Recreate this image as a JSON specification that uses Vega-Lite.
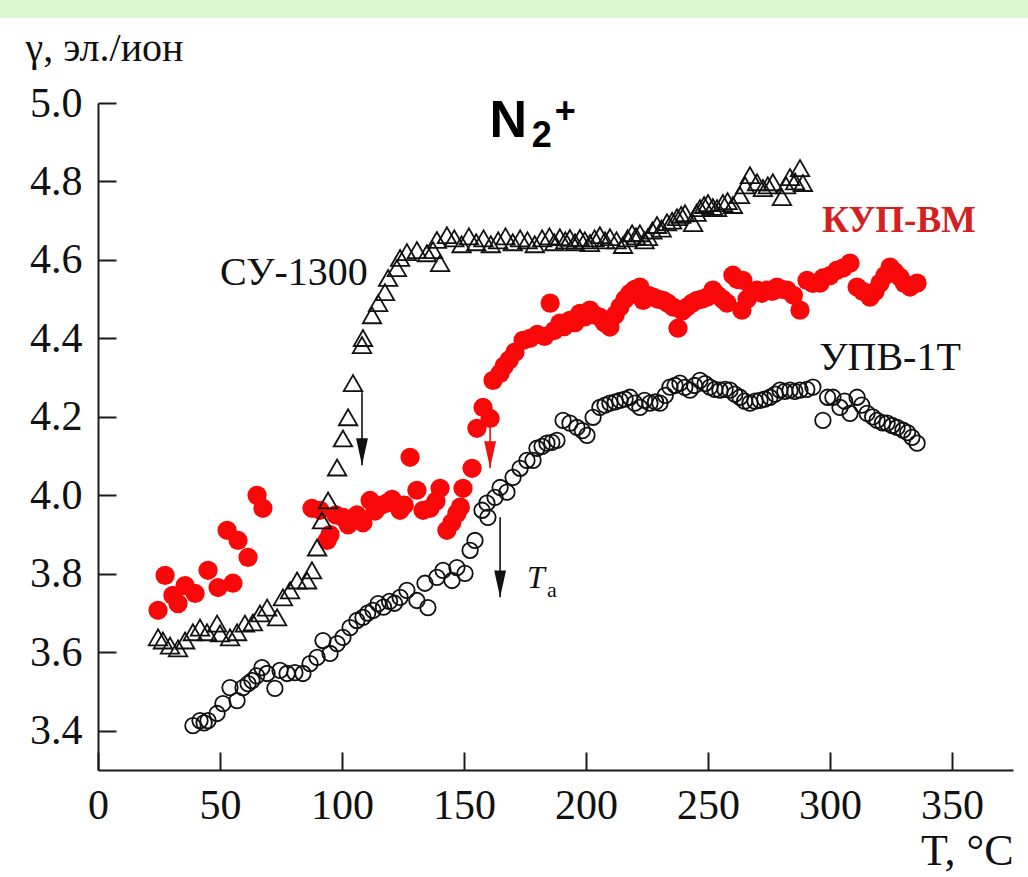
{
  "$schema": "https://vega.github.io/schema/vega-lite/v6.json",
  "width": 915,
  "height": 667,
  "autosize": {"type": "none"},
  "padding": {"left": 98, "top": 103, "right": 15, "bottom": 107},
  "background": "white",
  "config": {"view": {"stroke": null}},
  "datasets": {
    "tri": [
      {"T":24.6,"g":3.638},{"T":26.6,"g":3.630},{"T":29.5,"g":3.617},{"T":32.8,"g":3.610},{"T":35.7,"g":3.630},{"T":38.9,"g":3.651},{"T":41.8,"g":3.663},{"T":44.7,"g":3.651},{"T":48.8,"g":3.673},{"T":50.0,"g":3.648},{"T":54.1,"g":3.638},{"T":57.0,"g":3.651},{"T":60.2,"g":3.673},{"T":63.5,"g":3.676},{"T":66.4,"g":3.699},{"T":69.3,"g":3.714},{"T":73.4,"g":3.689},{"T":75.8,"g":3.740},{"T":78.7,"g":3.758},{"T":81.6,"g":3.783},{"T":85.7,"g":3.783},{"T":87.7,"g":3.809},{"T":89.8,"g":3.867},{"T":91.8,"g":3.936},{"T":94.3,"g":3.987},{"T":98.0,"g":4.071},{"T":100.4,"g":4.145},{"T":102.5,"g":4.199},{"T":104.5,"g":4.286},{"T":108.2,"g":4.383},{"T":108.6,"g":4.401},{"T":112.3,"g":4.459},{"T":114.8,"g":4.490},{"T":117.6,"g":4.518},{"T":118.9,"g":4.554},{"T":122.5,"g":4.579},{"T":123.8,"g":4.605},{"T":126.6,"g":4.620},{"T":130.7,"g":4.625},{"T":134.8,"g":4.617},{"T":137.3,"g":4.625},{"T":140.2,"g":4.592},{"T":138.9,"g":4.651},{"T":143.0,"g":4.663},
      {"T":146,"g":4.655},{"T":149,"g":4.64},{"T":152,"g":4.66},{"T":155,"g":4.645},{"T":158,"g":4.655},{"T":161,"g":4.64},{"T":164,"g":4.65},{"T":167,"g":4.66},{"T":170,"g":4.645},{"T":173,"g":4.655},{"T":176,"g":4.65},{"T":179,"g":4.64},{"T":182,"g":4.655},{"T":185,"g":4.66},{"T":187,"g":4.645},
      {"T":189.3,"g":4.658},{"T":191.5,"g":4.650},{"T":193.4,"g":4.656},{"T":195.5,"g":4.645},{"T":197.5,"g":4.656},{"T":199.5,"g":4.650},{"T":201.6,"g":4.643},{"T":203.5,"g":4.655},{"T":205.7,"g":4.663},{"T":207.8,"g":4.650},{"T":209.8,"g":4.658},{"T":212.5,"g":4.650},{"T":215.2,"g":4.638},{"T":217,"g":4.655},{"T":218.9,"g":4.668},{"T":220.5,"g":4.660},{"T":222.1,"g":4.668},{"T":224,"g":4.650},{"T":225.4,"g":4.658},{"T":227.2,"g":4.675},{"T":229.1,"g":4.689},{"T":231,"g":4.680},{"T":233.2,"g":4.696},{"T":235.3,"g":4.700},{"T":237.3,"g":4.709},{"T":239,"g":4.715},{"T":240.6,"g":4.719},{"T":243.9,"g":4.694},{"T":245.3,"g":4.720},{"T":246.7,"g":4.732},{"T":248.4,"g":4.740},{"T":250.0,"g":4.745},{"T":252,"g":4.735},{"T":253.7,"g":4.732},{"T":256.1,"g":4.745},{"T":258,"g":4.750},{"T":260.2,"g":4.740},{"T":263.1,"g":4.765},{"T":265.2,"g":4.790},{"T":267.2,"g":4.816},{"T":270.1,"g":4.798},{"T":272.5,"g":4.783},{"T":274.5,"g":4.790},{"T":276.6,"g":4.798},{"T":280.3,"g":4.760},{"T":282,"g":4.790},{"T":283.6,"g":4.811},{"T":285.7,"g":4.800},{"T":287.7,"g":4.834},{"T":288.9,"g":4.796}
    ],
    "red": [
      {"T":24.6,"g":3.707},{"T":27.5,"g":3.796},{"T":30.7,"g":3.745},{"T":32.8,"g":3.724},{"T":35.7,"g":3.770},{"T":39.8,"g":3.750},{"T":45.1,"g":3.809},{"T":49.2,"g":3.765},{"T":52.9,"g":3.911},{"T":55.3,"g":3.776},{"T":57.4,"g":3.885},{"T":61.5,"g":3.842},{"T":65.2,"g":4.000},{"T":67.6,"g":3.967},
      {"T":87.7,"g":3.967},{"T":91.0,"g":3.962},{"T":93.9,"g":3.885},{"T":95.1,"g":3.900},{"T":97.5,"g":3.950},{"T":100.4,"g":3.944},{"T":102.5,"g":3.925},{"T":104.5,"g":3.936},{"T":106.1,"g":3.950},{"T":108.6,"g":3.930},{"T":111.5,"g":3.987},{"T":113.5,"g":3.960},{"T":116.0,"g":3.975},{"T":118.4,"g":3.980},{"T":120.5,"g":3.990},{"T":123.8,"g":3.962},{"T":125.5,"g":3.975},{"T":127.9,"g":4.097},{"T":130.7,"g":4.013},{"T":133.2,"g":3.962},{"T":136.1,"g":3.967},{"T":138.5,"g":3.985},{"T":140.2,"g":4.018},{"T":143.0,"g":3.911},{"T":145.0,"g":3.930},{"T":147.1,"g":3.954},{"T":148.5,"g":3.970},{"T":149.6,"g":4.018},{"T":153.3,"g":4.069},{"T":155.3,"g":4.171},{"T":157.8,"g":4.224},{"T":160.7,"g":4.196},{"T":161.9,"g":4.293},{"T":164.8,"g":4.311},{"T":166.5,"g":4.330},{"T":168.5,"g":4.345},{"T":170.9,"g":4.365},{"T":174.2,"g":4.395},{"T":177.0,"g":4.400},{"T":180.0,"g":4.410},{"T":183.0,"g":4.405},{"T":185.3,"g":4.490},{"T":187.0,"g":4.420},{"T":189.3,"g":4.439},{"T":191.0,"g":4.430},{"T":193.4,"g":4.446},{"T":195.5,"g":4.440},{"T":197.5,"g":4.464},{"T":199.5,"g":4.455},{"T":201.6,"g":4.472},{"T":203.5,"g":4.460},{"T":205.7,"g":4.454},{"T":207.5,"g":4.440},{"T":209.8,"g":4.429},{"T":212.0,"g":4.460},{"T":213.9,"g":4.480},{"T":216.0,"g":4.500},{"T":218.0,"g":4.515},{"T":220.0,"g":4.525},{"T":222.1,"g":4.531},{"T":223.4,"g":4.497},{"T":225.5,"g":4.510},{"T":227.5,"g":4.505},{"T":229.5,"g":4.500},{"T":231.6,"g":4.497},{"T":233.5,"g":4.490},{"T":235.7,"g":4.480},{"T":237.7,"g":4.426},{"T":239.5,"g":4.470},{"T":241.4,"g":4.480},{"T":243.5,"g":4.490},{"T":245.5,"g":4.497},{"T":247.5,"g":4.500},{"T":249.6,"g":4.505},{"T":252.0,"g":4.523},{"T":254.0,"g":4.510},{"T":256.0,"g":4.500},{"T":257.8,"g":4.490},{"T":260.2,"g":4.561},{"T":262.0,"g":4.550},{"T":264.3,"g":4.548},{"T":263.9,"g":4.472},{"T":266.0,"g":4.500},{"T":268.0,"g":4.515},{"T":270.1,"g":4.523},{"T":272.0,"g":4.515},{"T":274.2,"g":4.523},{"T":276.3,"g":4.520},{"T":278.3,"g":4.531},{"T":280.3,"g":4.525},{"T":282.4,"g":4.523},{"T":285.0,"g":4.510},{"T":287.7,"g":4.472},{"T":290.6,"g":4.548},{"T":293.0,"g":4.540},{"T":295.9,"g":4.541},{"T":297.1,"g":4.554},{"T":300.0,"g":4.560},{"T":302.9,"g":4.574},{"T":305.5,"g":4.580},{"T":308.2,"g":4.592},{"T":311.1,"g":4.531},{"T":313.5,"g":4.520},{"T":316.4,"g":4.505},{"T":318.5,"g":4.520},{"T":320.5,"g":4.541},{"T":322.5,"g":4.560},{"T":324.6,"g":4.582},{"T":326.5,"g":4.570},{"T":328.7,"g":4.556},{"T":330.5,"g":4.540},{"T":332.8,"g":4.531},{"T":335.7,"g":4.541}
    ],
    "circ": [
      {"T":38.9,"g":3.413},{"T":41.8,"g":3.426},{"T":43.5,"g":3.420},{"T":45.1,"g":3.426},{"T":48.8,"g":3.444},{"T":51.2,"g":3.469},{"T":54.1,"g":3.510},{"T":57.0,"g":3.477},{"T":59.4,"g":3.510},{"T":61.5,"g":3.520},{"T":63.1,"g":3.528},{"T":65.0,"g":3.540},{"T":67.2,"g":3.561},{"T":69.3,"g":3.546},{"T":72.5,"g":3.508},{"T":74.6,"g":3.554},{"T":77.5,"g":3.546},{"T":80.7,"g":3.548},{"T":84.0,"g":3.546},{"T":86.9,"g":3.571},{"T":89.8,"g":3.587},{"T":92.2,"g":3.630},{"T":95.1,"g":3.597},{"T":98.0,"g":3.622},{"T":100.4,"g":3.638},{"T":103.3,"g":3.663},{"T":106.1,"g":3.681},{"T":108.6,"g":3.689},{"T":110.5,"g":3.700},{"T":112.7,"g":3.707},{"T":114.8,"g":3.724},{"T":117.0,"g":3.715},{"T":119.5,"g":3.730},{"T":121.5,"g":3.725},{"T":123.8,"g":3.740},{"T":126.6,"g":3.758},{"T":130.7,"g":3.732},{"T":134.0,"g":3.776},{"T":135.2,"g":3.714},{"T":138.9,"g":3.791},{"T":141.4,"g":3.809},{"T":145.1,"g":3.783},{"T":147.1,"g":3.816},{"T":150.4,"g":3.801},{"T":152.5,"g":3.860},{"T":154.5,"g":3.885},{"T":157.4,"g":3.962},{"T":159.8,"g":3.944},{"T":159.4,"g":3.980},{"T":162.7,"g":3.995},{"T":164.8,"g":4.020},{"T":167.6,"g":4.008},{"T":170.1,"g":4.046},{"T":173.0,"g":4.069},{"T":175.8,"g":4.089},{"T":178.3,"g":4.089},{"T":179.9,"g":4.120},{"T":182.0,"g":4.125},{"T":184.0,"g":4.133},{"T":186.0,"g":4.135},{"T":188.1,"g":4.140},{"T":190.6,"g":4.191},{"T":193.4,"g":4.184},{"T":196.3,"g":4.173},{"T":198.5,"g":4.165},{"T":200.4,"g":4.153},{"T":202.9,"g":4.199},{"T":205.7,"g":4.224},{"T":207.8,"g":4.230},{"T":209.8,"g":4.235},{"T":212.0,"g":4.238},{"T":213.9,"g":4.242},{"T":216.0,"g":4.245},{"T":218.0,"g":4.250},{"T":220.0,"g":4.235},{"T":222.1,"g":4.224},{"T":224.0,"g":4.242},{"T":226.2,"g":4.235},{"T":228.5,"g":4.238},{"T":230.3,"g":4.235},{"T":232.5,"g":4.255},{"T":234.4,"g":4.276},{"T":236.5,"g":4.280},{"T":238.5,"g":4.286},{"T":240.5,"g":4.275},{"T":242.6,"g":4.268},{"T":244.5,"g":4.280},{"T":246.7,"g":4.293},{"T":248.8,"g":4.285},{"T":250.8,"g":4.276},{"T":252.8,"g":4.270},{"T":254.9,"g":4.268},{"T":257.0,"g":4.270},{"T":259.0,"g":4.268},{"T":261.0,"g":4.258},{"T":263.1,"g":4.250},{"T":265.0,"g":4.240},{"T":267.2,"g":4.235},{"T":269.3,"g":4.240},{"T":271.3,"g":4.242},{"T":273.3,"g":4.245},{"T":275.4,"g":4.250},{"T":277.5,"g":4.258},{"T":279.5,"g":4.268},{"T":281.5,"g":4.265},{"T":283.6,"g":4.268},{"T":285.6,"g":4.265},{"T":287.7,"g":4.268},{"T":290.5,"g":4.270},{"T":293.0,"g":4.276},{"T":297.1,"g":4.191},{"T":299.0,"g":4.250},{"T":301.2,"g":4.250},{"T":304.1,"g":4.224},{"T":306.0,"g":4.240},{"T":308.2,"g":4.209},{"T":311.1,"g":4.250},{"T":313.0,"g":4.230},{"T":315.2,"g":4.209},{"T":317.5,"g":4.200},{"T":319.3,"g":4.191},{"T":321.5,"g":4.185},{"T":323.4,"g":4.184},{"T":325.5,"g":4.178},{"T":327.5,"g":4.173},{"T":329.9,"g":4.166},{"T":331.8,"g":4.160},{"T":333.6,"g":4.148},{"T":335.7,"g":4.133}
    ],
    "arrows": [
      {"T":108.2,"top":4.263,"tip":4.077,"series":"СУ-1300"},
      {"T":160.7,"top":4.179,"tip":4.069,"series":"КУП-ВМ"},
      {"T":164.8,"top":3.944,"tip":3.740,"series":"УПВ-1Т"}
    ],
    "band": [
      {"x0": -40.164, "x1": 381.148, "y0": 5.2625, "y1": 5.2166}
    ]
  },
  "encoding": {
    "x": {
      "field": "T", "type": "quantitative",
      "scale": {"domain": [0, 375], "nice": false, "zero": false},
      "axis": {
        "values": [0, 50, 100, 150, 200, 250, 300, 350],
        "grid": false,
        "tickSize": -18, "tickWidth": 2, "tickColor": "#1a1a1a",
        "domainWidth": 2, "domainColor": "#1a1a1a",
        "labelFont": "Liberation Serif", "labelFontSize": 42, "labelColor": "#111",
        "labelBaseline": "alphabetic", "labelPadding": 66,
        "labelFlush": false, "labelOverlap": false,
        "title": "T, °C",
        "titleFont": "Liberation Serif", "titleFontSize": 44, "titleFontWeight": "normal", "titleColor": "#111",
        "titleAlign": "right", "titleAnchor": null, "titleBaseline": "alphabetic",
        "titleX": 915, "titleY": 94
      }
    },
    "y": {
      "field": "g", "type": "quantitative",
      "scale": {"domain": [3.3, 5.0], "nice": false, "zero": false},
      "axis": {
        "values": [3.4, 3.6, 3.8, 4.0, 4.2, 4.4, 4.6, 4.8, 5.0],
        "format": ".1f",
        "grid": false,
        "tickSize": -18, "tickWidth": 2, "tickColor": "#1a1a1a",
        "domainWidth": 2, "domainColor": "#1a1a1a",
        "labelFont": "Liberation Serif", "labelFontSize": 42, "labelColor": "#111",
        "labelPadding": 34, "labelFlush": false, "labelOverlap": false,
        "title": "γ, эл./ион",
        "titleFont": "Liberation Serif", "titleFontSize": 40, "titleFontWeight": "normal", "titleColor": "#111",
        "titleAngle": 0, "titleAlign": "left", "titleAnchor": null, "titleBaseline": "alphabetic",
        "titleX": -73, "titleY": -43
      }
    }
  },
  "layer": [
    {
      "data": {"name": "band"},
      "mark": {"type": "rect", "fill": "#dcf8d0", "clip": false},
      "encoding": {
        "x": {"field": "x0", "type": "quantitative"},
        "x2": {"field": "x1"},
        "y": {"field": "y0", "type": "quantitative"},
        "y2": {"field": "y1"}
      }
    },
    {
      "data": {"name": "red"},
      "mark": {"type": "point", "shape": "circle", "filled": true, "color": "#f80808", "opacity": 1, "size": 370}
    },
    {
      "data": {"name": "circ"},
      "mark": {"type": "point", "shape": "circle", "filled": false, "stroke": "#111", "strokeWidth": 1.8, "opacity": 1, "size": 240}
    },
    {
      "data": {"name": "tri"},
      "mark": {"type": "point", "shape": "triangle-up", "filled": false, "stroke": "#111", "strokeWidth": 1.8, "opacity": 1, "size": 340}
    },
    {
      "data": {"name": "arrows"},
      "mark": {"type": "rule", "strokeWidth": 1.6},
      "encoding": {
        "y": {"field": "top", "type": "quantitative"},
        "y2": {"field": "tip"},
        "color": {"field": "series", "type": "nominal", "scale": {"domain": ["СУ-1300", "КУП-ВМ", "УПВ-1Т"], "range": ["#111111", "#ee1111", "#111111"]}, "legend": null}
      }
    },
    {
      "data": {"name": "arrows"},
      "mark": {"type": "point", "shape": "M-0.22,-1L0.22,-1L0,0Z", "filled": true, "opacity": 1, "size": 2900},
      "encoding": {
        "y": {"field": "tip", "type": "quantitative"},
        "color": {"field": "series", "type": "nominal", "scale": {"domain": ["СУ-1300", "КУП-ВМ", "УПВ-1Т"], "range": ["#111111", "#ee1111", "#111111"]}, "legend": null}
      }
    },
    {
      "data": {"values": [{"T": 80.3, "g": 4.536, "label": "СУ-1300"}, {"T": 324.6, "g": 4.319, "label": "УПВ-1Т"}]},
      "mark": {"type": "text", "font": "Liberation Serif", "fontSize": 40, "color": "#111", "align": "center", "baseline": "alphabetic"},
      "encoding": {"text": {"field": "label"}}
    },
    {
      "data": {"values": [{"T": 328.3, "g": 4.671, "label": "КУП-ВМ"}]},
      "mark": {"type": "text", "font": "Liberation Serif", "fontSize": 37, "fontWeight": "bold", "color": "#d42020", "align": "center", "baseline": "alphabetic"},
      "encoding": {"text": {"field": "label"}}
    },
    {
      "data": {"values": [{"T": 160.5, "g": 4.913, "label": "N"}]},
      "mark": {"type": "text", "font": "Liberation Sans", "fontSize": 52, "fontWeight": "bold", "color": "#000", "align": "left", "baseline": "alphabetic"},
      "encoding": {"text": {"field": "label"}}
    },
    {
      "data": {"values": [{"T": 177.8, "g": 4.888, "label": "2"}]},
      "mark": {"type": "text", "font": "Liberation Sans", "fontSize": 36, "fontWeight": "bold", "color": "#000", "align": "left", "baseline": "alphabetic"},
      "encoding": {"text": {"field": "label"}}
    },
    {
      "data": {"values": [{"T": 191.5, "g": 4.977, "label": "+"}]},
      "mark": {"type": "text", "font": "Liberation Sans", "fontSize": 36, "fontWeight": "bold", "color": "#000", "align": "center", "baseline": "middle"},
      "encoding": {"text": {"field": "label"}}
    },
    {
      "data": {"values": [{"T": 175.8, "g": 3.763, "label": "T"}]},
      "mark": {"type": "text", "font": "Liberation Serif", "fontSize": 32, "fontStyle": "italic", "color": "#111", "align": "left", "baseline": "alphabetic"},
      "encoding": {"text": {"field": "label"}}
    },
    {
      "data": {"values": [{"T": 184.0, "g": 3.740, "label": "a"}]},
      "mark": {"type": "text", "font": "Liberation Serif", "fontSize": 22, "color": "#111", "align": "left", "baseline": "alphabetic"},
      "encoding": {"text": {"field": "label"}}
    }
  ]
}
